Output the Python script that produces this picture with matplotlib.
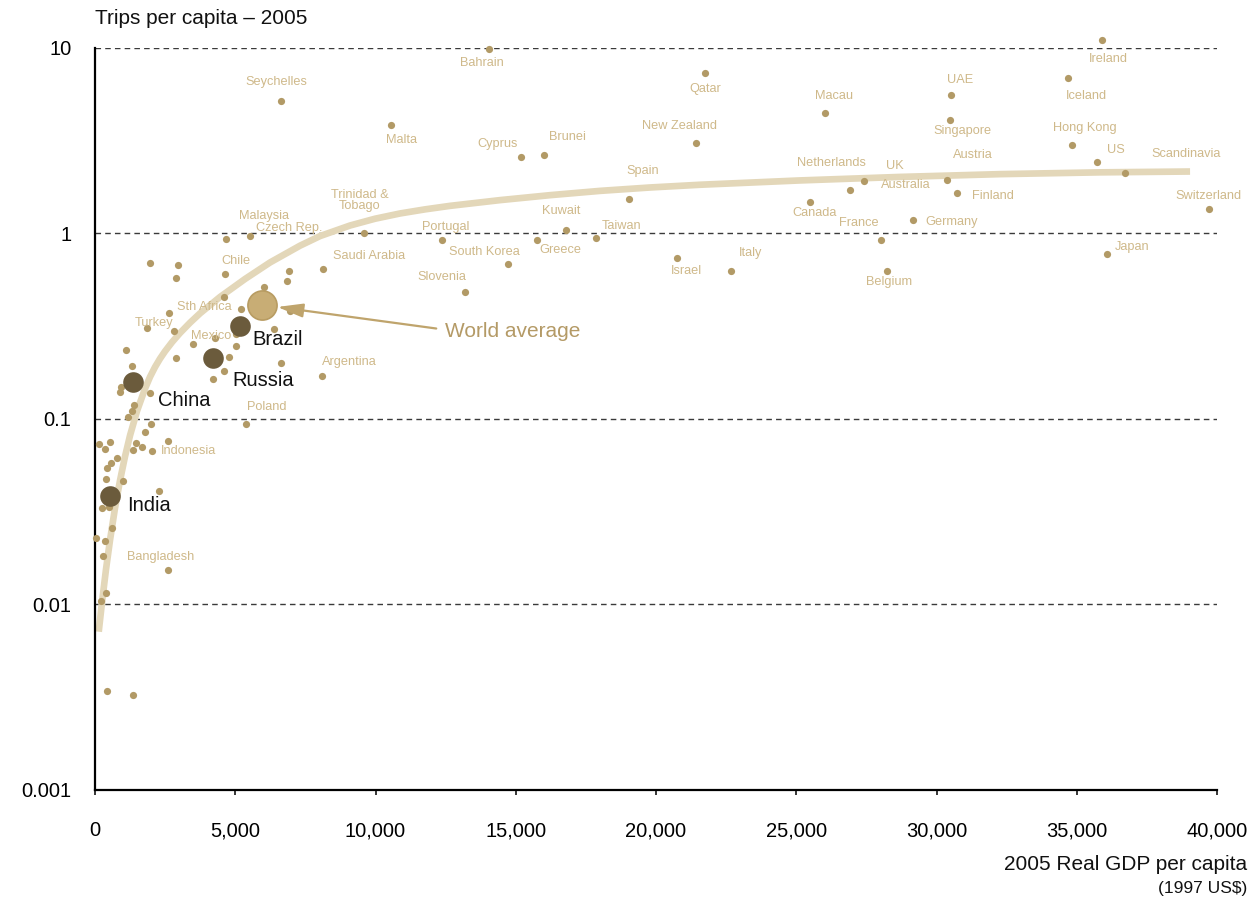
import matplotlib
matplotlib.use('Agg')
import matplotlib.pyplot as plt
from matplotlib.ticker import NullLocator, FixedLocator, FixedFormatter

plt.rcParams['font.family'] = ['Liberation Sans', 'DejaVu Sans']

# Labelled countries: 2005 real GDP per capita (1997 US$) and trips per capita
countries = ['Bahrain', 'Seychelles', 'Malta', 'Cyprus', 'Brunei', 'Qatar', 'New Zealand',
             'Macau', 'UAE', 'Singapore', 'Spain', 'Netherlands', 'UK', 'Canada', 'Austria',
             'Finland', 'Germany', 'France', 'Belgium', 'Israel', 'Italy', 'Taiwan', 'Kuwait',
             'Greece', 'Portugal', 'Trinidad &\nTobago', 'Saudi Arabia', 'South Korea',
             'Slovenia', 'Ireland', 'Iceland', 'Hong Kong', 'US', 'Scandinavia', 'Switzerland',
             'Japan', 'Argentina', 'Poland', 'Indonesia', 'Bangladesh', 'Chile', 'Malaysia',
             'Czech Rep.', 'Sth Africa', 'Turkey', 'Mexico']
country_gdp = [14040, 6640, 10560, 15190, 16020, 21750, 21440,
               26030, 30510, 30490, 19050, 26920, 27400, 25490, 30360,
               30730, 29150, 28010, 28220, 20760, 22670, 17860, 16780,
               15750, 12360, 9590, 8110, 14720,
               13180, 35900, 34700, 34820, 35710, 36710, 39700,
               36080, 8090, 5380, 2040, 2610, 4620, 4660,
               5530, 5200, 1840, 4290]
country_trips = [9.9, 5.18, 3.86, 2.57, 2.64, 7.36, 3.06,
                 4.48, 5.6, 4.09, 1.54, 1.72, 1.92, 1.48, 1.94,
                 1.65, 1.18, 0.92, 0.63, 0.735, 0.626, 0.946, 1.05,
                 0.92, 0.92, 1.0, 0.646, 0.685,
                 0.482, 11.1, 6.87, 3.0, 2.42, 2.13, 1.36,
                 0.778, 0.17, 0.094, 0.0675, 0.0153, 0.605, 0.93,
                 0.966, 0.39, 0.308, 0.272]

# Unlabelled countries
other_gdp = [1960, 2950, 2890, 6900, 6860, 6040, 4610, 6960, 2650, 2830, 6390, 3480,
             5040, 5020, 1100, 1320, 2890, 4770, 6630, 4610, 4200, 1970, 920, 900,
             1400, 1330, 1190, 2000, 1780, 140, 360, 540, 1450, 1370, 1670, 2610,
             770, 560, 420, 380, 1000, 2290, 240, 500, 620, 25, 360, 300,
             400, 225, 420, 1360]
other_trips = [0.696, 0.679, 0.573, 0.628, 0.551, 0.512, 0.457, 0.380, 0.374, 0.298, 0.306, 0.254,
               0.247, 0.286, 0.236, 0.193, 0.213, 0.215, 0.200, 0.182, 0.164, 0.138, 0.149, 0.140,
               0.119, 0.111, 0.102, 0.0936, 0.0848, 0.073, 0.0689, 0.0754, 0.074, 0.0678, 0.0704, 0.0758,
               0.0619, 0.0577, 0.0544, 0.0473, 0.0465, 0.0409, 0.033, 0.0337, 0.0258, 0.0229, 0.022, 0.0183,
               0.0115, 0.0104, 0.00342, 0.00327]

# BRIC economies
bric = ['Brazil', 'Russia', 'China', 'India']
bric_gdp = [5170, 4200, 1365, 535]
bric_trips = [0.317, 0.212, 0.158, 0.0385]

world_gdp = 5960
world_trips = 0.412

# Trend curve read along its length
trend_gdp = [132, 250, 392, 535, 713, 891, 1069, 1248, 1497, 1783, 1961, 2139, 2317,
             2496, 2745, 3030, 3387, 3743, 4456, 5348, 6239, 7308, 8021, 9091, 9982,
             10873, 11765, 12656, 14438, 16221, 18003, 19786, 21568, 25133, 28698,
             32263, 35828, 39037]
trend_trips = [0.00713, 0.01032, 0.0155, 0.02227, 0.03313, 0.04662, 0.06278, 0.08149,
               0.1104, 0.1458, 0.1687, 0.1905, 0.2114, 0.2317, 0.2594, 0.2908, 0.3304,
               0.3710, 0.4547, 0.5685, 0.6978, 0.8594, 0.9683, 1.104, 1.201, 1.282,
               1.349, 1.409, 1.513, 1.609, 1.697, 1.770, 1.831, 1.932, 2.018, 2.089,
               2.136, 2.158]

x_ticks = [0, 5000, 10000, 15000, 20000, 25000, 30000, 35000, 40000]
y_ticks = [0.001, 0.01, 0.1, 1, 10]
y_tick_labels = ['0.001', '0.01', '0.1', '1', '10']

# label placement, pixels from the dot (dx, dy, ha)
label_pos = {
    'Bahrain': (-7, -14, 'center'), 'Seychelles': (-5, 19, 'center'), 'Malta': (10, -15, 'center'),
    'Cyprus': (-24, 13, 'center'), 'Brunei': (23, 18, 'center'), 'Qatar': (0, -16, 'center'),
    'New Zealand': (-17, 17, 'center'), 'Macau': (9, 17, 'center'), 'UAE': (9, 15, 'center'),
    'Singapore': (12, -11, 'center'), 'Spain': (13, 28, 'center'), 'Netherlands': (-19, 27, 'center'),
    'UK': (31, 15, 'center'), 'Canada': (5, -11, 'center'), 'Austria': (26, 25, 'center'),
    'Finland': (15, -3, 'left'), 'Germany': (13, -2, 'left'), 'France': (-22, 17, 'center'),
    'Belgium': (2, -11, 'center'), 'Israel': (9, -13, 'center'), 'Italy': (20, 18, 'center'),
    'Taiwan': (26, 12, 'center'), 'Kuwait': (-5, 19, 'center'), 'Greece': (24, -10, 'center'),
    'Portugal': (4, 13, 'center'), 'Trinidad &\nTobago': (-4, 33, 'center'),
    'Saudi Arabia': (47, 13, 'center'), 'South Korea': (-24, 12, 'center'),
    'Slovenia': (-23, 15, 'center'), 'Ireland': (6, -19, 'center'), 'Iceland': (18, -18, 'center'),
    'Hong Kong': (13, 17, 'center'), 'US': (19, 12, 'center'), 'Scandinavia': (61, 19, 'center'),
    'Switzerland': (0, 13, 'center'), 'Japan': (25, 7, 'center'), 'Argentina': (27, 14, 'center'),
    'Poland': (21, 17, 'center'), 'Indonesia': (9, 0, 'left'), 'Bangladesh': (-8, 13, 'center'),
    'Chile': (11, 13, 'center'), 'Malaysia': (38, 23, 'center'), 'Czech Rep.': (39, 8, 'center'),
    'Sth Africa': (-37, 2, 'center'), 'Turkey': (7, 5, 'center'), 'Mexico': (-4, 2, 'center'),
}
bric_pos = {'Brazil': (38, -13), 'Russia': (50, -22), 'China': (51, -18), 'India': (39, -10)}

dot_color = '#b29a66'
label_color = '#cfb98a'
bric_color = '#6b5b3c'
world_color = '#c8ad75'
trend_color = '#e3d7b9'
arrow_color = '#bfa46c'

fig = plt.figure(figsize=(12.52, 9.02), dpi=100)
ax = fig.add_axes([0.0759, 0.1242, 0.8962, 0.8226])

ax.plot(trend_gdp, trend_trips, color=trend_color, lw=4.8, solid_capstyle='butt',
        solid_joinstyle='round', zorder=2)

ax.scatter(other_gdp, other_trips, s=27, color=dot_color, lw=0, zorder=3, clip_on=False)
ax.scatter(country_gdp, country_trips, s=27, color=dot_color, lw=0, zorder=3, clip_on=False)
ax.scatter(bric_gdp, bric_trips, s=220, color=bric_color, lw=0, zorder=4)
ax.scatter([world_gdp], [world_trips], s=440, color=world_color, edgecolor='#b89c62',
           lw=1.2, zorder=5)

for name, gx, ty in zip(countries, country_gdp, country_trips):
    dx, dy, ha = label_pos[name]
    ax.annotate(name, (gx, ty), xytext=(dx, dy), textcoords='offset pixels',
                ha=ha, va='center', fontsize=9.2, color=label_color,
                linespacing=0.95, zorder=6, annotation_clip=False)

# Australia shares the UK cluster
uk = countries.index('UK')
ax.annotate('Australia', (country_gdp[uk], country_trips[uk]), xytext=(42, -4),
            textcoords='offset pixels', ha='center', va='center', fontsize=9.2,
            color=label_color, zorder=6)

for name, gx, ty in zip(bric, bric_gdp, bric_trips):
    dx, dy = bric_pos[name]
    ax.annotate(name, (gx, ty), xytext=(dx, dy), textcoords='offset pixels',
                ha='center', va='center', fontsize=14.5, color='#111111', zorder=6)

ax.annotate('World average', (world_gdp, world_trips), xytext=(250, -27),
            textcoords='offset pixels', ha='center', va='center', fontsize=15,
            color='#b49a66', zorder=6,
            arrowprops=dict(arrowstyle='-|>,head_length=0.78,head_width=0.21',
                            mutation_scale=20, color=arrow_color, lw=1.6,
                            shrinkA=4, shrinkB=11, relpos=(0, 0.62)))

ax.set_yscale('log')
ax.set_xlim(0, 40000)
ax.set_ylim(0.001, 10)

ax.yaxis.set_major_locator(FixedLocator(y_ticks))
ax.yaxis.set_major_formatter(FixedFormatter(y_tick_labels))
ax.yaxis.set_minor_locator(NullLocator())
ax.set_xticks(x_ticks)
ax.set_xticklabels(['{:,}'.format(v) for v in x_ticks])

ax.tick_params(axis='y', length=0, pad=17, labelsize=14.5)
ax.tick_params(axis='x', direction='out', length=3.6, width=1.1, pad=19, labelsize=14.5)

ax.grid(axis='y', color='#3a3a3a', linestyle=(0, (4, 3)), lw=1.0)
ax.set_axisbelow(True)

for side in ['top', 'right']:
    ax.spines[side].set_visible(False)
ax.spines['left'].set_linewidth(1.6)
ax.spines['bottom'].set_linewidth(1.6)

fig.text(95 / 1252, 1 - 18 / 902, 'Trips per capita – 2005', ha='left', va='center',
         fontsize=15, color='#111111')
fig.text(1247 / 1252, 1 - 865 / 902, '2005 Real GDP per capita', ha='right', va='center',
         fontsize=15, color='#111111')
fig.text(1247 / 1252, 1 - 889 / 902, r'(1997 US\$)', ha='right', va='center',
         fontsize=12.5, color='#111111')

fig.savefig('out.png', dpi=100)
